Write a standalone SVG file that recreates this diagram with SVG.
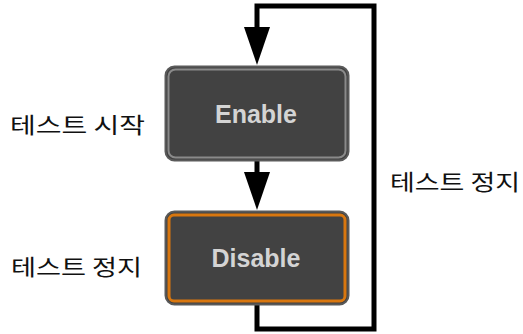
<svg xmlns="http://www.w3.org/2000/svg" width="523" height="334" viewBox="0 0 523 334">
<style>
.lbl{font-family:"Noto Sans CJK KR","Noto Sans",sans-serif;font-size:22px;fill:#111}
.btn{font-family:"Liberation Sans",Arial,sans-serif;font-size:25px;font-weight:bold;fill:#d4d4d4;text-anchor:middle}
.wire{fill:none;stroke:#000;stroke-width:5}
</style>
<rect width="523" height="334" fill="#fff"/>
<g id="connectors">
<polyline class="wire" points="257,305 257,329 374,329 374,6 257,6 257,40"/>
<polygon points="244,27 270,27 257,65" fill="#000"/>
<line class="wire" x1="257" y1="160" x2="257" y2="180"/>
<polygon points="244,172 270,172 257,210" fill="#000"/>
</g>
<g id="enable">
<rect x="165.5" y="66.5" width="183" height="94" rx="9" fill="#424242" stroke="#5a5a5a" stroke-width="2"/>
<rect x="168.5" y="69.5" width="177" height="88" rx="7" fill="none" stroke="#8a8a8a" stroke-width="2"/>
<text class="btn" x="256" y="123">Enable</text>
</g>
<g id="disable">
<rect x="165.5" y="211.5" width="183" height="93" rx="9" fill="#424242" stroke="#5a5a5a" stroke-width="2"/>
<rect x="169" y="215" width="176" height="86" rx="5" fill="none" stroke="#d9770f" stroke-width="3"/>
<text class="btn" x="256" y="267">Disable</text>
</g>
<g id="labels">
<text class="lbl" x="10" y="133" textLength="135" lengthAdjust="spacingAndGlyphs">테스트 시작</text>
<text class="lbl" x="11" y="275" textLength="131" lengthAdjust="spacingAndGlyphs">테스트 정지</text>
<text class="lbl" x="390" y="190" textLength="130" lengthAdjust="spacingAndGlyphs">테스트 정지</text>
</g>
</svg>
